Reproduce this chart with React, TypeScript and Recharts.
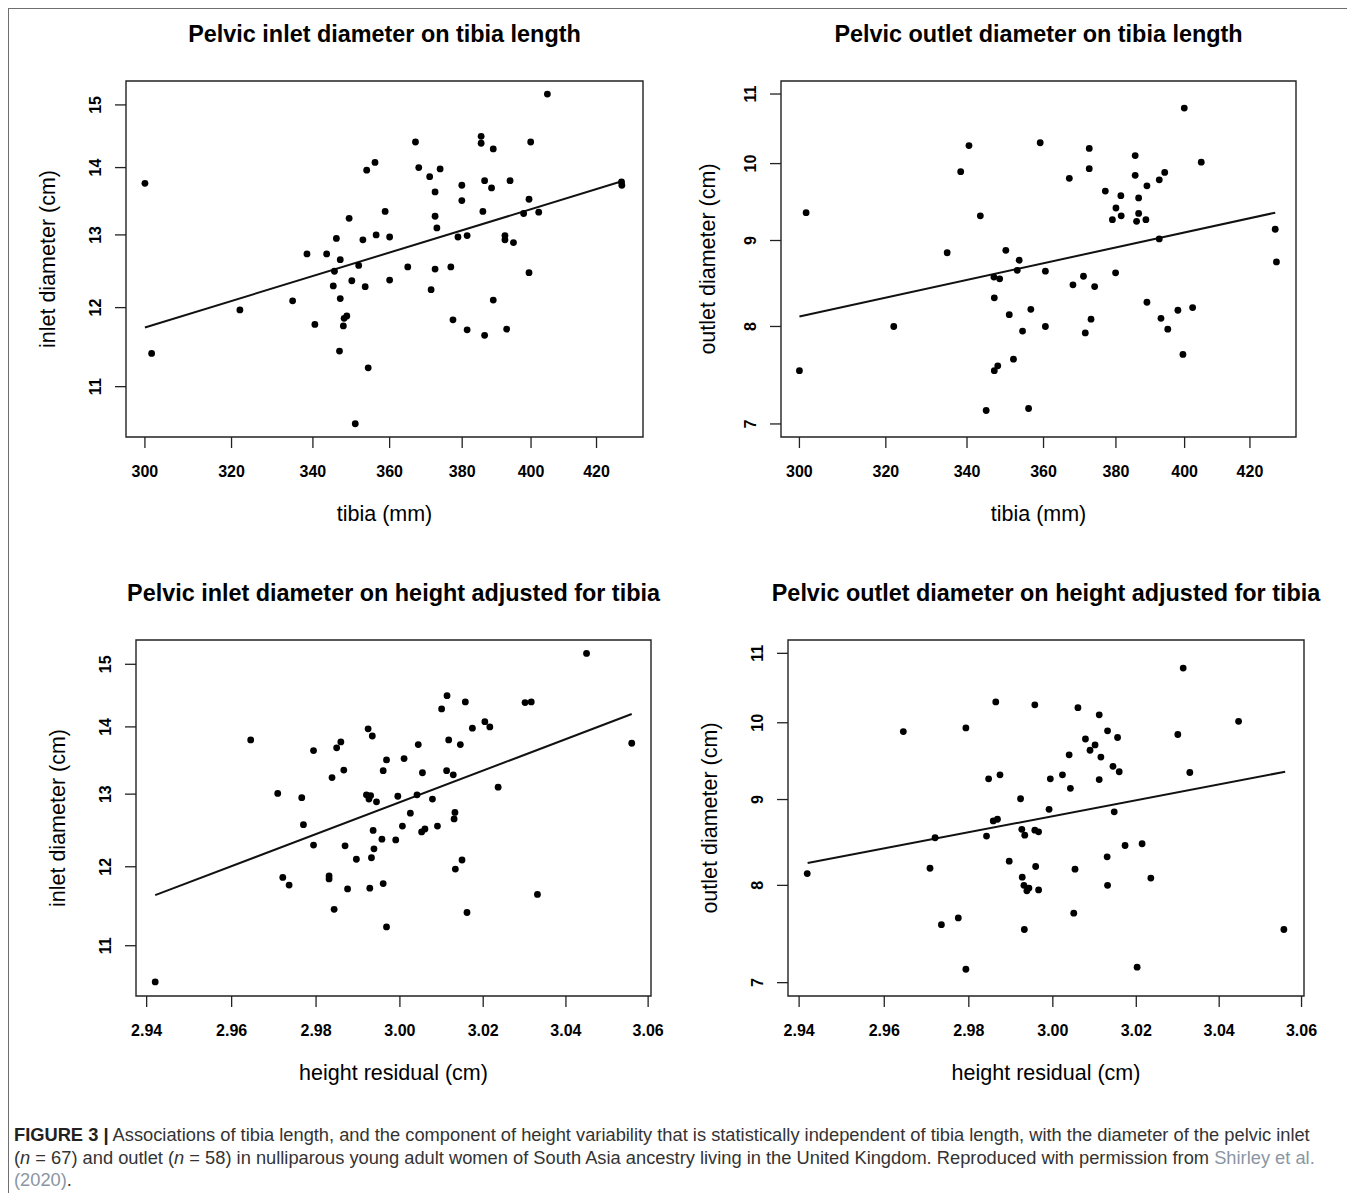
import { ScatterChart, Scatter, XAxis, YAxis, ReferenceLine, ReferenceArea } from 'recharts';

const FONT = '"Liberation Sans", Arial, Helvetica, sans-serif';
const INK = '#000';

// Pelvic inlet diameter (cm) on tibia length (mm), n = 67
const inletTibia = [
  300, 301.5, 322, 334.9, 338.5, 340.5, 343.5, 346, 347, 345.5, 345.2, 347, 349.3, 350, 351.8, 352.9, 353.5,
  353.9, 356.1, 356.4, 358.8, 360, 360, 348.7, 348, 347.8, 346.8, 354.3, 350.9, 404.9, 367, 385.4, 385.4,
  388.9, 399.9, 367.9, 373.8, 370.9, 372.4, 379.9, 386.4, 388.4, 393.8, 379.9, 399.4, 372.4, 385.9, 397.8,
  402.3, 372.9, 378.8, 381.4, 392.3, 392.3, 394.8, 364.9, 372.4, 376.8, 399.4, 371.3, 388.9, 377.4, 381.4,
  386.4, 392.8, 427.9, 428,
];
const inletOnTibia = [
  13.76, 11.41, 11.97, 12.09, 12.73, 11.78, 12.73, 12.95, 12.65, 12.49, 12.29, 12.12, 13.24, 12.36, 12.57,
  12.93, 12.28, 13.96, 14.08, 13.0, 13.34, 12.97, 12.37, 11.89, 11.86, 11.76, 11.44, 11.23, 10.56, 15.18,
  14.4, 14.49, 14.38, 14.29, 14.4, 14.0, 13.98, 13.86, 13.63, 13.73, 13.8, 13.69, 13.8, 13.5, 13.52, 13.27,
  13.34, 13.31, 13.33, 13.1, 12.97, 12.99, 12.99, 12.93, 12.89, 12.55, 12.52, 12.55, 12.47, 12.24, 12.1,
  11.84, 11.71, 11.64, 11.72, 13.78, 13.73,
];

// Pelvic outlet diameter (cm) on tibia length (mm), n = 58
const outletTibia = [
  300, 301.5, 321.9, 335, 338.4, 340.5, 343.4, 344.9, 346.9, 348.4, 347, 350, 353.5, 353, 350.9, 356.6, 354.4,
  352, 347.9, 347, 356, 359.1, 360.5, 360.5, 399.9, 372.5, 385.5, 405, 372.5, 367, 385.5, 394.1, 392.5,
  388.9, 377, 381.4, 386.5, 380, 381.5, 379, 386.5, 385.9, 388.6, 392.5, 428, 428.4, 379.9, 370.9, 368, 374,
  388.9, 398, 402.4, 393, 395, 373, 371.4, 399.5,
];
const outletOnTibia = [
  7.53, 9.35, 8.0, 8.85, 9.89, 10.25, 9.31, 7.13, 8.56, 8.54, 8.32, 8.88, 8.76, 8.64, 8.13, 8.19, 7.95, 7.65,
  7.58, 7.53, 7.15, 10.29, 8.63, 8.0, 10.79, 10.21, 10.11, 10.02, 9.93, 9.8, 9.84, 9.88, 9.78, 9.7, 9.63,
  9.57, 9.54, 9.41, 9.31, 9.26, 9.34, 9.24, 9.26, 9.02, 9.14, 8.74, 8.61, 8.57, 8.47, 8.45, 8.27, 8.18, 8.21,
  8.09, 7.97, 8.08, 7.93, 7.7,
];

// Pelvic inlet diameter (cm) on height residual (cm), n = 67
const inletResid = [
  2.942, 2.9645, 2.9709, 2.9721, 2.9736, 2.9766, 2.977, 2.9794, 2.9794, 2.9838, 2.9831, 2.9831, 2.9843,
  2.9849, 2.9859, 2.9866, 2.9869, 2.9875, 2.9896, 2.9924, 2.9934, 2.992, 2.993, 2.9926, 2.9944, 2.9936,
  2.9957, 2.9938, 2.9932, 2.9928, 2.996, 2.9968, 2.996, 2.9968, 3.045, 3.0113, 3.0157, 3.01, 3.0301, 3.0316,
  3.0174, 3.0204, 3.0216, 3.0117, 3.0145, 3.0044, 3.056, 3.001, 3.0054, 3.0112, 3.0128, 3.0236, 2.9995,
  3.0041, 3.0078, 3.0025, 3.0132, 3.013, 3.0006, 3.0052, 3.006, 3.009, 2.999, 3.0149, 3.0133, 3.0331, 3.0161,
];
const inletOnResid = [
  10.57, 13.8, 13.01, 11.86, 11.76, 12.95, 12.57, 13.64, 12.29, 13.24, 11.88, 11.84, 11.45, 13.68, 13.77,
  13.35, 12.28, 11.71, 12.1, 13.97, 13.86, 12.99, 12.98, 12.93, 12.89, 12.49, 12.37, 12.24, 12.12, 11.72,
  11.78, 11.23, 13.34, 13.5, 15.18, 14.49, 14.39, 14.28, 14.38, 14.39, 13.98, 14.08, 14.0, 13.8, 13.73, 13.73,
  13.75, 13.52, 13.31, 13.34, 13.28, 13.1, 12.97, 12.99, 12.93, 12.73, 12.74, 12.65, 12.55, 12.47, 12.51,
  12.55, 12.36, 12.09, 11.97, 11.64, 11.41,
];

// Pelvic outlet diameter (cm) on height residual (cm), n = 58
const outletResid = [
  2.9419, 2.9645, 2.9708, 2.972, 2.9735, 2.9775, 2.9793, 2.9793, 2.9847, 2.9874, 2.9864, 2.9858, 2.9868,
  2.9842, 2.9896, 2.9923, 2.9926, 2.9933, 2.9927, 2.9931, 2.9938, 2.9943, 2.9932, 2.9957, 2.9957, 2.9966,
  2.9959, 2.9966, 3.0313, 3.006, 3.0111, 3.0447, 3.0131, 3.0155, 3.03, 3.0078, 3.0101, 3.0089, 3.0039,
  3.0115, 3.0144, 3.0159, 3.0329, 3.0023, 2.9994, 3.0111, 3.0042, 2.9991, 3.0147, 3.0173, 3.0214, 3.013,
  3.0053, 3.0235, 3.0131, 3.005, 3.0557, 3.0202,
];
const outletOnResid = [
  8.13, 9.88, 8.19, 8.54, 7.58, 7.65, 9.93, 7.13, 9.26, 9.31, 10.29, 8.74, 8.76, 8.56, 8.27, 9.01, 8.64, 8.57,
  8.09, 8.0, 7.94, 7.97, 7.53, 10.25, 8.63, 8.61, 8.21, 7.95, 10.78, 10.21, 10.11, 10.02, 9.89, 9.8, 9.84,
  9.78, 9.7, 9.63, 9.57, 9.54, 9.42, 9.35, 9.34, 9.31, 9.26, 9.25, 9.14, 8.88, 8.85, 8.45, 8.47, 8.32, 8.18,
  8.08, 8.0, 7.7, 7.53, 7.15,
];

// fitted lines (end points)
const fitTibiaX = [300, 428];
const fitInletTibiaY = [11.74, 13.79];
const fitOutletTibiaY = [8.11, 9.35];
const fitResidX = [2.942, 3.056];
const fitInletResidY = [11.63, 14.2];
const fitOutletResidY = [8.25, 9.35];

// axis ticks
const tibiaTicks = [300, 320, 340, 360, 380, 400, 420];
const residTicks = [2.94, 2.96, 2.98, 3.0, 3.02, 3.04, 3.06];
const inletTicks = [11, 12, 13, 14, 15];
const outletTicks = [7, 8, 9, 10, 11];

type Box = { left: number; top: number; right: number; bottom: number };

interface PanelProps {
  title: string;
  xLabel: string;
  yLabel: string;
  xs: number[];
  ys: number[];
  fitX: number[];
  fitY: number[];
  xDomain: [number, number];
  yDomain: [number, number];
  xTicks: number[];
  yTicks: number[];
  xFmt: (v: number) => string;
  box: Box; // plot box in page pixels
  yLabelGap?: number;
}

const PAGE = 8; // body margin
const TITLE_SIZE = 23.4;
const LABEL_SIZE = 21.5;

function YTick({ x, y, payload }: any) {
  return (
    <text
      x={x}
      y={y}
      transform={`rotate(-90 ${x} ${y})`}
      textAnchor="middle"
      fontFamily={FONT}
      fontSize={16}
      fontWeight="bold"
      fill={INK}
    >
      {payload.value}
    </text>
  );
}

function Panel({
  title, xLabel, yLabel, xs, ys, fitX, fitY, xDomain, yDomain, xTicks, yTicks, xFmt, box, yLabelGap = 77,
}: PanelProps) {
  const data = xs.map((x, i) => ({ x, y: ys[i] }));
  const w = box.right - box.left;
  const h = box.bottom - box.top;
  const cx = (box.left + box.right) / 2 - PAGE;
  const cy = (box.top + box.bottom) / 2 - PAGE;

  return (
    <>
      <div
        style={{
          position: 'absolute',
          left: cx,
          top: box.top - 38 - PAGE - 0.8465 * TITLE_SIZE,
          transform: 'translateX(-50%)',
          fontFamily: FONT,
          fontSize: TITLE_SIZE,
          fontWeight: 'bold',
          lineHeight: 1,
          whiteSpace: 'nowrap',
          color: INK,
        }}
      >
        {title}
      </div>
      <div
        style={{
          position: 'absolute',
          left: cx,
          top: box.bottom + 85 - PAGE - 0.8465 * LABEL_SIZE,
          transform: 'translateX(-50%)',
          fontFamily: FONT,
          fontSize: LABEL_SIZE,
          lineHeight: 1,
          whiteSpace: 'nowrap',
          color: INK,
        }}
      >
        {xLabel}
      </div>
      <div
        style={{
          position: 'absolute',
          left: box.left - yLabelGap - PAGE,
          top: cy,
          transform: 'translate(-50%, -50%) rotate(-90deg)',
          fontFamily: FONT,
          fontSize: LABEL_SIZE,
          lineHeight: 1,
          whiteSpace: 'nowrap',
          color: INK,
        }}
      >
        {yLabel}
      </div>
      <div style={{ position: 'absolute', left: box.left - 100 - PAGE, top: box.top - 10 - PAGE }}>
        <ScatterChart width={w + 130} height={h + 70} margin={{ top: 10, right: 30, left: 40, bottom: 10 }}>
          <XAxis
            type="number"
            dataKey="x"
            scale="log"
            domain={xDomain}
            ticks={xTicks}
            tickFormatter={xFmt}
            interval={0}
            height={50}
            axisLine={false}
            tickSize={11}
            tickMargin={18}
            tickLine={{ stroke: '#222', strokeWidth: 1.3 }}
            tick={{ fontFamily: FONT, fontSize: 16, fontWeight: 'bold', fill: INK }}
            allowDataOverflow
          />
          <YAxis
            type="number"
            dataKey="y"
            scale="log"
            domain={yDomain}
            ticks={yTicks}
            interval={0}
            width={60}
            axisLine={false}
            tickSize={11}
            tickMargin={14}
            tickLine={{ stroke: '#222', strokeWidth: 1.3 }}
            tick={<YTick />}
            allowDataOverflow
          />
          <ReferenceArea
            x1={xDomain[0]}
            x2={xDomain[1]}
            y1={yDomain[0]}
            y2={yDomain[1]}
            fill="none"
            fillOpacity={0}
            stroke="#222"
            strokeWidth={1.4}
            ifOverflow="visible"
          />
          <ReferenceLine
            segment={[
              { x: fitX[0], y: fitY[0] },
              { x: fitX[1], y: fitY[1] },
            ]}
            stroke="#111"
            strokeWidth={2}
            ifOverflow="visible"
          />
          <Scatter
            data={data}
            isAnimationActive={false}
            shape={(p: any) => <circle cx={p.cx} cy={p.cy} r={3.4} fill="#000" />}
          />
        </ScatterChart>
      </div>
    </>
  );
}

const fmtInt = (v: number) => String(v);
const fmt2 = (v: number) => v.toFixed(2);

const CAP_SIZE = 18.3;

export default function App() {
  const capLine = (baseline: number) => ({
    position: 'absolute' as const,
    left: 14 - PAGE,
    top: baseline - PAGE - 0.8465 * CAP_SIZE,
    fontFamily: FONT,
    fontSize: CAP_SIZE,
    lineHeight: 1,
    whiteSpace: 'nowrap' as const,
    color: '#333',
  });
  const link = { color: '#8a96a3' };

  return (
    <div style={{ position: 'relative', width: 1339, height: 1185, background: '#fff', overflow: 'hidden' }}>
      <div
        style={{
          position: 'absolute',
          left: 0,
          top: 0,
          width: 1400,
          height: 1300,
          borderLeft: '1px solid #6f6f6f',
          borderTop: '1px solid #6f6f6f',
        }}
      />
      <Panel
        title="Pelvic inlet diameter on tibia length"
        xLabel="tibia (mm)"
        yLabel="inlet diameter (cm)"
        xs={inletTibia}
        ys={inletOnTibia}
        fitX={fitTibiaX}
        fitY={fitInletTibiaY}
        xDomain={[295.8, 434.8]}
        yDomain={[10.407, 15.4]}
        xTicks={tibiaTicks}
        yTicks={inletTicks}
        xFmt={fmtInt}
        box={{ left: 126, top: 81, right: 643, bottom: 437 }}
      />
      <Panel
        title="Pelvic outlet diameter on tibia length"
        xLabel="tibia (mm)"
        yLabel="outlet diameter (cm)"
        xs={outletTibia}
        ys={outletOnTibia}
        fitX={fitTibiaX}
        fitY={fitOutletTibiaY}
        xDomain={[295.9, 434.7]}
        yDomain={[6.876, 11.198]}
        xTicks={tibiaTicks}
        yTicks={outletTicks}
        xFmt={fmtInt}
        box={{ left: 781, top: 81, right: 1296, bottom: 437 }}
        yLabelGap={72}
      />
      <Panel
        title="Pelvic inlet diameter on height adjusted for tibia"
        xLabel="height residual (cm)"
        yLabel="inlet diameter (cm)"
        xs={inletResid}
        ys={inletOnResid}
        fitX={fitResidX}
        fitY={fitInletResidY}
        xDomain={[2.9375, 3.0607]}
        yDomain={[10.407, 15.407]}
        xTicks={residTicks}
        yTicks={inletTicks}
        xFmt={fmt2}
        box={{ left: 136, top: 640, right: 651, bottom: 996 }}
      />
      <Panel
        title="Pelvic outlet diameter on height adjusted for tibia"
        xLabel="height residual (cm)"
        yLabel="outlet diameter (cm)"
        xs={outletResid}
        ys={outletOnResid}
        fitX={fitResidX}
        fitY={fitOutletResidY}
        xDomain={[2.9374, 3.0606]}
        yDomain={[6.873, 11.203]}
        xTicks={residTicks}
        yTicks={outletTicks}
        xFmt={fmt2}
        box={{ left: 788, top: 640, right: 1304, bottom: 996 }}
      />

      <div style={capLine(1141)}>
        <b style={{ color: '#222' }}>FIGURE 3 |</b> Associations of tibia length, and the component of height variability that
        is statistically independent of tibia length, with the diameter of the pelvic inlet
      </div>
      <div style={capLine(1164)}>
        (<i>n</i> = 67) and outlet (<i>n</i> = 58) in nulliparous young adult women of South Asia ancestry living in the
        United Kingdom. Reproduced with permission from <span style={link}>Shirley et al.</span>
      </div>
      <div style={capLine(1186)}>
        <span style={link}>(2020)</span>.
      </div>
    </div>
  );
}
